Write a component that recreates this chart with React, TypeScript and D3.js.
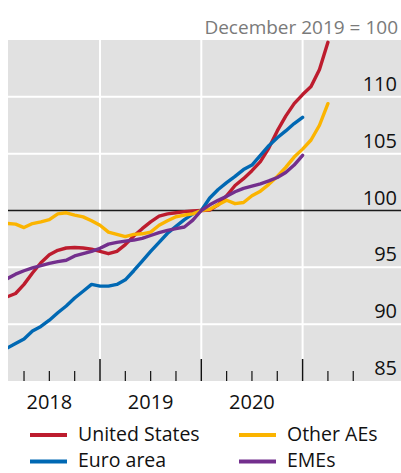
import React from "react";
import * as d3 from "d3";

// Monthly observations, Jan 2018 – Mar 2021 (plotted at month end)
const months = [
  "2018-01","2018-02","2018-03","2018-04","2018-05","2018-06","2018-07","2018-08","2018-09","2018-10","2018-11","2018-12",
  "2019-01","2019-02","2019-03","2019-04","2019-05","2019-06","2019-07","2019-08","2019-09","2019-10","2019-11","2019-12",
  "2020-01","2020-02","2020-03","2020-04","2020-05","2020-06","2020-07","2020-08","2020-09","2020-10","2020-11","2020-12",
  "2021-01","2021-02","2021-03",
];

const unitedStates = [
  92.4, 92.7, 93.5, 94.5, 95.4, 96.1, 96.5, 96.7, 96.75, 96.7, 96.6, 96.4,
  96.2, 96.4, 97.0, 97.75, 98.4, 99.0, 99.5, 99.7, 99.8, 99.9, 99.95, 100,
  100.05, 100.5, 101.3, 102.2, 102.8, 103.5, 104.3, 105.5, 107.0, 108.3, 109.4, 110.2,
  110.9, 112.4, 114.8,
];

const euroArea = [
  87.9, 88.3, 88.7, 89.4, 89.8, 90.35, 91.0, 91.6, 92.3, 92.9, 93.5, 93.35,
  93.35, 93.5, 93.9, 94.7, 95.55, 96.4, 97.2, 98.0, 98.6, 99.2, 99.7, 100,
  101.1, 101.85, 102.45, 103.0, 103.6, 104.0, 104.85, 105.7, 106.4, 107.0, 107.65, 108.2,
];

const otherAEs = [
  98.86, 98.8, 98.5, 98.85, 99.0, 99.2, 99.7, 99.8, 99.6, 99.44, 99.1, 98.7,
  98.1, 97.9, 97.7, 97.9, 97.95, 98.1, 98.7, 99.1, 99.45, 99.6, 99.7, 100,
  100.1, 100.5, 100.9, 100.6, 100.7, 101.3, 101.7, 102.3, 103.0, 103.8, 104.7, 105.4,
  106.2, 107.5, 109.4,
];

const emes = [
  94.0, 94.4, 94.7, 94.95, 95.15, 95.35, 95.5, 95.62, 96.0, 96.2, 96.4, 96.67,
  97.04, 97.2, 97.3, 97.4, 97.55, 97.8, 98.05, 98.25, 98.4, 98.55, 99.15, 100,
  100.5, 100.9, 101.25, 101.65, 101.95, 102.15, 102.35, 102.6, 102.9, 103.35, 104.0, 104.85,
];

const seriesNames = ["United States", "Euro area", "Other AEs", "EMEs"];
const seriesColors = ["#bd1c2e", "#0068b3", "#fbb400", "#732f8d"];
const yTicks = [85, 90, 95, 100, 105, 110];
const yearLabels = ["2018", "2019", "2020"];
const yearBoundaries = [12, 24, 36]; // months since Jan 2018
const quarterTicks = [3, 6, 9, 15, 18, 21, 27, 30, 33, 39, 42];
const subtitle = "December 2019 = 100";

const W = 401;
const H = 473;
const plotLeft = 8;
const plotRight = 401;
const plotTop = 40;
const plotBottom = 381;
const FONT = "'Open Sans', 'Noto Sans', sans-serif";

export default function App() {
  const x = d3.scaleLinear().domain([12, 36]).range([100, 302.6]);
  const y = d3.scaleLinear().domain([85, 115]).range([plotBottom, plotTop]);

  const allSeries = [unitedStates, euroArea, otherAEs, emes];
  const line = d3
    .line<number>()
    .x((_, i) => x(i + 1))
    .y((d) => y(d))
    .curve(d3.curveLinear);

  const monthIndex = (label: string) => months.indexOf(label);
  const yearMid = (yr: string) => monthIndex(`${yr}-06`) + 1;

  const legendItems = seriesNames.map((name, i) => ({
    name,
    color: seriesColors[i],
    col: i === 0 || i === 1 ? 0 : 1,
    row: i === 0 || i === 2 ? 0 : 1,
  }));
  const legendOrder = [0, 2, 1, 3];

  return (
    <svg
      width={W}
      height={H}
      viewBox={`0 0 ${W} ${H}`}
      style={{ position: "absolute", left: 0, top: 0, background: "#fff" }}
      fontFamily={FONT}
    >
      <defs>
        <clipPath id="plotClip">
          <rect x={plotLeft} y={plotTop} width={plotRight - plotLeft} height={plotBottom - plotTop} />
        </clipPath>
      </defs>

      <text x={398} y={33.5} textAnchor="end" fontSize={19} fill="#7a7a7a">
        {subtitle}
      </text>

      <rect x={plotLeft} y={plotTop} width={plotRight - plotLeft} height={plotBottom - plotTop} fill="#e1e1e1" />

      {yTicks
        .filter((t) => t !== 85 && t !== 100)
        .map((t) => (
          <line key={`hg${t}`} x1={plotLeft} x2={plotRight} y1={y(t)} y2={y(t)} stroke="#ffffff" strokeWidth={2} />
        ))}
      {yearBoundaries.map((m) => (
        <line key={`vg${m}`} x1={x(m)} x2={x(m)} y1={plotTop} y2={plotBottom} stroke="#ffffff" strokeWidth={2} />
      ))}

      <line x1={plotLeft} x2={plotRight} y1={y(100)} y2={y(100)} stroke="#1a1a1a" strokeWidth={1.5} />

      {yTicks.map((t) => (
        <text key={`yl${t}`} x={397} y={y(t) - 6} textAnchor="end" fontSize={20} fill="#111">
          {t}
        </text>
      ))}

      {yearBoundaries.map((m) => (
        <line key={`mt${m}`} x1={x(m)} x2={x(m)} y1={359} y2={plotBottom} stroke="#111" strokeWidth={1.5} />
      ))}
      {quarterTicks.map((m) => (
        <line key={`qt${m}`} x1={x(m)} x2={x(m)} y1={371} y2={plotBottom} stroke="#111" strokeWidth={1.2} />
      ))}

      <g clipPath="url(#plotClip)">
        {allSeries.map((s, i) => (
          <path
            key={seriesNames[i]}
            d={line(s) || ""}
            fill="none"
            stroke={seriesColors[i]}
            strokeWidth={3.4}
            strokeLinejoin="round"
            strokeLinecap="round"
          />
        ))}
      </g>

      {yearLabels.map((yr) => (
        <text key={yr} x={x(yearMid(yr))} y={408.5} textAnchor="middle" fontSize={20} fill="#111">
          {yr}
        </text>
      ))}

      {legendOrder.map((i) => {
        const it = legendItems[i];
        const sx = it.col === 0 ? 30 : 239;
        const base = it.row === 0 ? 440.5 : 467;
        return (
          <g key={it.name}>
            <line x1={sx} x2={sx + 37} y1={base - 5.5} y2={base - 5.5} stroke={it.color} strokeWidth={4} />
            <text x={sx + 48} y={base} fontSize={19.5} fill="#111">
              {it.name}
            </text>
          </g>
        );
      })}
    </svg>
  );
}
